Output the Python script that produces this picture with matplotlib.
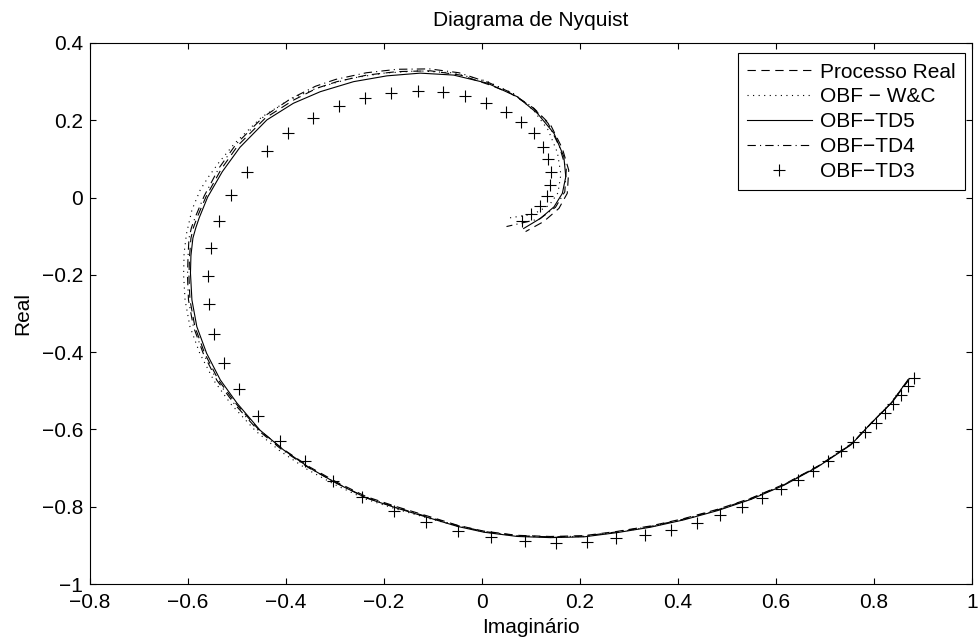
import matplotlib
matplotlib.use("Agg")
import matplotlib.pyplot as plt
from matplotlib.ticker import FixedLocator, FuncFormatter

plt.rcParams['font.family'] = ['Liberation Sans', 'DejaVu Sans']
plt.rcParams['lines.scale_dashes'] = False

# Processo Real (dashed)
proc_x = [0.872, 0.838, 0.797, 0.755, 0.687, 0.618, 0.549, 0.480, 0.411, 0.343,
          0.275, 0.207, 0.139, 0.071, 0.003, -0.050, -0.106, -0.174, -0.236, -0.297,
          -0.352, -0.407, -0.456, -0.503, -0.538, -0.566, -0.586, -0.596, -0.598, -0.597,
          -0.594, -0.589, -0.581, -0.563, -0.532, -0.498, -0.442, -0.385, -0.337, -0.296,
          -0.235, -0.173, -0.105, -0.044, 0.017, 0.058, 0.106, 0.140, 0.164, 0.177,
          0.174, 0.157, 0.126, 0.089]
proc_y = [-0.470, -0.528, -0.580, -0.636, -0.694, -0.741, -0.778, -0.807, -0.831, -0.850,
          -0.864, -0.875, -0.877, -0.874, -0.863, -0.848, -0.826, -0.800, -0.774, -0.736,
          -0.697, -0.650, -0.600, -0.532, -0.472, -0.403, -0.334, -0.265, -0.205, -0.155,
          -0.105, -0.078, -0.050, 0.003, 0.074, 0.135, 0.206, 0.252, 0.283, 0.300,
          0.317, 0.326, 0.328, 0.317, 0.291, 0.270, 0.231, 0.188, 0.127, 0.071,
          0.011, -0.028, -0.062, -0.088]

# OBF - W&C (dotted)
wc_x = [0.870, 0.836, 0.795, 0.754, 0.686, 0.617, 0.549, 0.481, 0.412, 0.344,
        0.276, 0.208, 0.140, 0.072, 0.004, -0.050, -0.106, -0.175, -0.238, -0.300,
        -0.356, -0.412, -0.462, -0.512, -0.547, -0.576, -0.596, -0.606, -0.609, -0.608,
        -0.603, -0.592, -0.575, -0.558, -0.538, -0.505, -0.450, -0.395, -0.340, -0.270,
        -0.200, -0.130, -0.062, 0.008, 0.066, 0.105, 0.135, 0.154, 0.161, 0.155,
        0.137, 0.105, 0.054]
wc_y = [-0.471, -0.530, -0.583, -0.638, -0.696, -0.743, -0.780, -0.809, -0.833, -0.852,
        -0.866, -0.877, -0.879, -0.876, -0.865, -0.850, -0.831, -0.806, -0.780, -0.743,
        -0.704, -0.656, -0.604, -0.535, -0.474, -0.403, -0.334, -0.265, -0.200, -0.144,
        -0.093, -0.032, 0.020, 0.054, 0.089, 0.140, 0.208, 0.252, 0.282, 0.308,
        0.322, 0.328, 0.323, 0.302, 0.268, 0.226, 0.175, 0.116, 0.060, 0.012,
        -0.020, -0.043, -0.053]

# OBF-TD5 (solid)
td5_x = [0.869, 0.835, 0.794, 0.753, 0.685, 0.617, 0.549, 0.481, 0.412, 0.344,
         0.276, 0.208, 0.140, 0.072, 0.004, -0.050, -0.105, -0.173, -0.235, -0.296,
         -0.350, -0.405, -0.453, -0.500, -0.534, -0.562, -0.582, -0.592, -0.595, -0.594,
         -0.590, -0.584, -0.577, -0.560, -0.530, -0.494, -0.439, -0.385, -0.330, -0.262,
         -0.194, -0.126, -0.058, 0.011, 0.072, 0.113, 0.147, 0.167, 0.171, 0.164,
         0.147, 0.119, 0.085]
td5_y = [-0.472, -0.532, -0.584, -0.640, -0.697, -0.744, -0.781, -0.810, -0.834, -0.853,
         -0.867, -0.878, -0.880, -0.877, -0.866, -0.851, -0.830, -0.804, -0.778, -0.740,
         -0.701, -0.653, -0.602, -0.532, -0.472, -0.403, -0.334, -0.265, -0.195, -0.150,
         -0.105, -0.078, -0.052, 0.001, 0.067, 0.130, 0.201, 0.244, 0.274, 0.300,
         0.315, 0.322, 0.317, 0.296, 0.261, 0.218, 0.166, 0.106, 0.054, 0.011,
         -0.024, -0.054, -0.080]

# OBF-TD4 (dash-dot)
td4_x = [0.871, 0.837, 0.796, 0.754, 0.686, 0.618, 0.549, 0.481, 0.412, 0.344,
         0.276, 0.208, 0.140, 0.072, 0.004, -0.050, -0.106, -0.174, -0.237, -0.298,
         -0.354, -0.409, -0.458, -0.506, -0.541, -0.569, -0.589, -0.599, -0.601, -0.600,
         -0.598, -0.593, -0.585, -0.567, -0.537, -0.502, -0.446, -0.390, -0.340, -0.298,
         -0.236, -0.173, -0.107, -0.047, 0.013, 0.055, 0.101, 0.135, 0.158, 0.172,
         0.169, 0.150, 0.118, 0.050]
td4_y = [-0.471, -0.530, -0.582, -0.638, -0.695, -0.742, -0.779, -0.808, -0.832, -0.851,
         -0.865, -0.876, -0.878, -0.875, -0.864, -0.849, -0.828, -0.802, -0.776, -0.738,
         -0.699, -0.652, -0.601, -0.533, -0.473, -0.403, -0.334, -0.265, -0.205, -0.155,
         -0.105, -0.078, -0.050, 0.004, 0.076, 0.138, 0.209, 0.256, 0.288, 0.306,
         0.323, 0.332, 0.333, 0.323, 0.298, 0.274, 0.236, 0.192, 0.132, 0.073,
         0.015, -0.025, -0.055, -0.075]

# OBF-TD3 (markers)
td3_x = [0.882, 0.869, 0.855, 0.839, 0.822, 0.804, 0.782, 0.758, 0.733, 0.706,
         0.676, 0.644, 0.610, 0.571, 0.530, 0.485, 0.438, 0.385, 0.332, 0.274,
         0.214, 0.151, 0.087, 0.019, -0.048, -0.114, -0.180, -0.244, -0.304, -0.361,
         -0.413, -0.458, -0.496, -0.526, -0.546, -0.557, -0.559, -0.553, -0.536, -0.512,
         -0.479, -0.439, -0.395, -0.345, -0.291, -0.238, -0.185, -0.131, -0.080, -0.035,
         0.009, 0.048, 0.080, 0.106, 0.125, 0.135, 0.140, 0.138, 0.132, 0.118,
         0.101, 0.082]
td3_y = [-0.468, -0.487, -0.511, -0.534, -0.558, -0.583, -0.606, -0.632, -0.657, -0.682,
         -0.707, -0.731, -0.755, -0.778, -0.802, -0.822, -0.843, -0.859, -0.872, -0.882,
         -0.891, -0.893, -0.889, -0.879, -0.862, -0.840, -0.810, -0.776, -0.733, -0.681,
         -0.629, -0.564, -0.496, -0.427, -0.353, -0.276, -0.203, -0.130, -0.060, 0.007,
         0.067, 0.121, 0.168, 0.205, 0.237, 0.257, 0.271, 0.276, 0.272, 0.264,
         0.246, 0.222, 0.196, 0.166, 0.132, 0.099, 0.067, 0.033, 0.004, -0.022,
         -0.043, -0.060]

x_ticks = [-0.8, -0.6, -0.4, -0.2, 0, 0.2, 0.4, 0.6, 0.8, 1]
y_ticks = [-1, -0.8, -0.6, -0.4, -0.2, 0, 0.2, 0.4]

FS = 15

fig = plt.figure(figsize=(9.8, 6.41), dpi=100)
ax = fig.add_axes([90 / 980, 57 / 641, 882 / 980, 541 / 641])

lw = 0.8
ax.plot(proc_x, proc_y, color='k', lw=lw, dashes=(6, 4), label='Processo Real')
ax.plot(wc_x, wc_y, color='k', lw=lw, dashes=(0.8, 3.2), label='OBF \u2212 W&C')
ax.plot(td5_x, td5_y, color='k', lw=lw, ls='-', label='OBF\u2212TD5')
ax.plot(td4_x, td4_y, color='k', lw=lw, dashes=(6, 3, 0.8, 3), label='OBF\u2212TD4')
ax.plot(td3_x, td3_y, color='k', ls='none', marker='+', ms=8.6, mew=0.8,
        label='OBF\u2212TD3')

ax.set_xlim(-0.8, 1)
ax.set_ylim(-1, 0.4)


def fmt(v, _pos):
    s = f"{v:g}"
    return s.replace('-', '\u2212')


ax.xaxis.set_major_locator(FixedLocator(x_ticks))
ax.yaxis.set_major_locator(FixedLocator(y_ticks))
ax.xaxis.set_major_formatter(FuncFormatter(fmt))
ax.yaxis.set_major_formatter(FuncFormatter(fmt))
ax.tick_params(direction='in', top=True, right=True, length=4.5, width=0.8,
               labelsize=FS, colors='k')
ax.tick_params(axis='x', pad=6.5)
ax.tick_params(axis='y', pad=5)
for sp in ax.spines.values():
    sp.set_linewidth(0.8)
    sp.set_color('k')

ax.set_title('Diagrama de Nyquist', fontsize=FS, pad=12.5)
ax.set_xlabel('Imagin\u00e1rio', fontsize=FS, labelpad=4)
ax.set_ylabel('Real', fontsize=FS, labelpad=7)

leg = ax.legend(loc='upper right', bbox_to_anchor=(0.992, 0.981), borderaxespad=0,
                fontsize=FS, handlelength=3.1, handletextpad=0.4, labelspacing=0.28,
                borderpad=0.45, fancybox=False, frameon=True, framealpha=1)
leg.get_frame().set_edgecolor('k')
leg.get_frame().set_linewidth(0.8)

fig.savefig('out.png', dpi=100)
